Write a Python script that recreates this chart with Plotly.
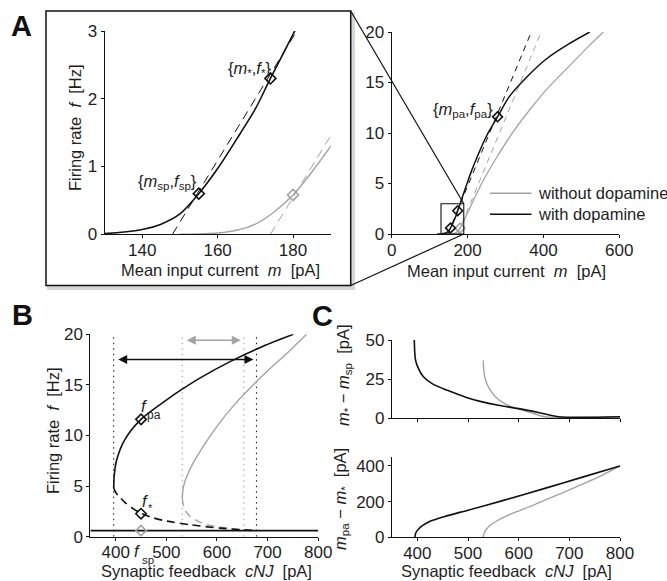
import plotly.graph_objects as go

W, H = 667, 581
FONT = "Liberation Sans, Arial, Helvetica, sans-serif"
TXT = "#1e1e1e"
BLACK = "#111111"
GRAY = "#a3a3a3"
LIGHT = "#b0b0b0"

# ---------------- data ----------------
# Panel A: firing rate f [Hz] vs mean input current m [pA]
m_with = [120, 130, 140, 145, 150, 155, 160, 165, 170, 174, 180, 190, 200, 210, 225, 250, 279, 310, 355, 410, 466, 522]
f_with = [0.0, 0.01, 0.07, 0.15, 0.3, 0.6, 0.97, 1.4, 1.85, 2.3, 2.95, 4.05, 5.15, 6.2, 7.6, 9.7, 11.6, 13.6, 15.5, 17.4, 18.8, 20.0]
m_without = [150, 160, 165, 170, 175, 180, 185, 190, 200, 215, 240, 277, 320, 364, 408, 470, 522, 558]
f_without = [0.0, 0.02, 0.06, 0.15, 0.33, 0.58, 0.92, 1.3, 2.1, 3.3, 5.2, 7.6, 10.1, 12.3, 14.3, 16.7, 18.7, 20.0]
# feedback lines (dashed)
fb_m_with = [148, 368]
fb_f_with = [0, 20]
fb_m_without = [174, 394]
fb_f_without = [0, 20]
# fixed points (diamonds)
fp_m_with = [155, 174, 279]
fp_f_with = [0.6, 2.3, 11.6]
fp_m_without = [180]
fp_f_without = [0.58]
# zoom window of the inset
zoom_m = [130, 190]
zoom_f = [0, 3]

# Panel B: firing rate vs synaptic feedback cNJ [pA]
cnj_hi_with = [396, 397, 402, 418, 450, 500, 532, 567, 626, 690, 751]
f_hi_with = [4.8, 6.0, 7.6, 9.6, 11.6, 13.5, 14.6, 15.7, 17.3, 18.8, 20.0]
cnj_mid_with = [396, 401, 409, 418, 435, 452, 475, 500, 547, 606, 652, 678]
f_mid_with = [4.8, 4.3, 3.85, 3.4, 2.75, 2.27, 1.85, 1.55, 1.18, 0.85, 0.68, 0.6]
cnj_hi_without = [531.5, 532.5, 535, 540, 550, 570, 600, 632, 698, 740, 777]
f_hi_without = [3.8, 4.5, 5.2, 5.9, 7.0, 8.7, 10.9, 12.9, 16.3, 18.2, 20.0]
cnj_mid_without = [531.5, 533.5, 538, 547, 562, 580, 620, 653]
f_mid_without = [3.8, 3.2, 2.55, 2.0, 1.55, 1.2, 0.85, 0.6]
cnj_low = [350, 800]
f_low = [0.6, 0.6]
cnj_fp = 450
fB_with = [11.6, 2.27]
fB_without = [0.6]
bistable_with = [396, 678]
bistable_without = [531.5, 653]

# Panel C: current differences vs cNJ
c1_cnj_with = [394, 396, 400, 412, 430, 458, 500, 524, 560, 600, 641, 678, 800]
c1_d_with = [50, 38, 33.5, 26.5, 22, 18, 13, 10.8, 8.3, 6.2, 3.6, 1.0, 1.0]
c1_cnj_without = [530, 531.5, 535, 543, 555, 570, 590, 622, 652, 800]
c1_d_without = [37, 30, 24, 18.5, 13.5, 9.8, 6.8, 3.8, 1.0, 1.0]
c2_cnj_with = [395, 396, 398, 402, 410, 425, 458, 500, 570, 655, 721, 800]
c2_d_with = [0, 15, 30, 45, 65, 90, 120, 152, 207, 277, 333, 400]
c2_cnj_without = [530, 531, 533, 537, 545, 556, 575, 595, 622, 653, 688, 726, 754, 800]
c2_d_without = [0, 15, 30, 48, 70, 90, 118, 142, 172, 210, 250, 298, 333, 400]

# ---------------- helpers ----------------
def PX(px):
    return px / W


def PY(py):
    return 1 - py / H


# axis geometry in pixels: (left, right), (bottom, top), x range, y range
GEOM = {
    "": ((104.6, 330.7), (234.3, 31.0), (130, 190), (0, 3)),
    "2": ((391.7, 619.3), (234.0, 32.0), (0, 600), (0, 20)),
    "3": ((90.4, 318.2), (536.7, 334.3), (350, 800), (0, 20)),
    "4": ((392.0, 620.0), (418.3, 340.0), (350, 800), (0, 50)),
    "5": ((392.0, 620.0), (537.3, 457.0), (350, 800), (0, 450)),
}


def data_to_px(key, x, y):
    (l, r), (b, t), (x0, x1), (y0, y1) = GEOM[key]
    return l + (x - x0) / (x1 - x0) * (r - l), b + (y - y0) / (y1 - y0) * (t - b)


fig = go.Figure()


def line(x, y, ax, color, width=1.5, dash=None, shape="spline"):
    fig.add_trace(go.Scatter(
        x=x, y=y, mode="lines", xaxis="x" + ax, yaxis="y" + ax,
        line=dict(color=color, width=width, dash=dash, shape=shape, smoothing=0.8),
        showlegend=False, hoverinfo="skip"))


def diamonds(x, y, ax, color, size):
    fig.add_trace(go.Scatter(
        x=x, y=y, mode="markers", xaxis="x" + ax, yaxis="y" + ax,
        marker=dict(symbol="diamond-open", size=size, color=color, line=dict(width=1.6, color=color)),
        showlegend=False, hoverinfo="skip"))


# ---- Panel A (inset and main) ----
for ax, dsh, dsize, lw in (("", "9px,6px", 8.5, 1.6), ("2", "6px,5px", 7.5, 1.5)):
    line(m_without, f_without, ax, GRAY, lw - 0.2)
    line(fb_m_without, fb_f_without, ax, GRAY, 1.0, dsh, "linear")
    line(fb_m_with, fb_f_with, ax, BLACK, 1.0, dsh, "linear")
    line(m_with, f_with, ax, BLACK, lw)
    diamonds(fp_m_without, fp_f_without, ax, GRAY, dsize)
    diamonds(fp_m_with, fp_f_with, ax, BLACK, dsize)

# ---- Panel B ----
for xv in bistable_without:
    line([xv, xv], [0, 20], "3", LIGHT, 1.2, "1.5px,4px", "linear")
for xv in bistable_with:
    line([xv, xv], [0, 20], "3", BLACK, 1.0, "1.5px,4px", "linear")
line(cnj_hi_without, f_hi_without, "3", GRAY, 1.4)
line(cnj_mid_without, f_mid_without, "3", GRAY, 1.4, "8px,5px")
line(cnj_low, f_low, "3", BLACK, 1.6, None, "linear")
line(cnj_hi_with, f_hi_with, "3", BLACK, 1.6)
line(cnj_mid_with, f_mid_with, "3", BLACK, 1.6, "8px,5px")
diamonds([cnj_fp] * len(fB_without), fB_without, "3", GRAY, 8)
diamonds([cnj_fp] * len(fB_with), fB_with, "3", BLACK, 8)

# ---- Panel C ----
line(c1_cnj_without, c1_d_without, "4", GRAY, 1.4)
line(c1_cnj_with, c1_d_with, "4", BLACK, 1.6)
line(c2_cnj_without, c2_d_without, "5", GRAY, 1.4)
line(c2_cnj_with, c2_d_with, "5", BLACK, 1.6)

# ---------------- axes ----------------
tickfont = dict(family=FONT, size=17, color=TXT)
common = dict(showline=True, linecolor=BLACK, linewidth=1.2, ticks="outside", ticklen=3,
              tickwidth=1, tickcolor=BLACK, showgrid=False, zeroline=False,
              tickfont=tickfont, fixedrange=True, automargin=False)
ticks = {
    "": ([140, 160, 180], [0, 1, 2, 3]),
    "2": ([0, 200, 400, 600], [0, 5, 10, 15, 20]),
    "3": ([400, 500, 600, 700, 800], [0, 5, 10, 15, 20]),
    "4": ([400, 500, 600, 700, 800], [0, 25, 50]),
    "5": ([400, 500, 600, 700, 800], [0, 200, 400]),
}
layout_axes = {}
for key, ((l, r), (b, t), xr, yr) in GEOM.items():
    layout_axes["xaxis" + key] = dict(common, domain=[PX(l), PX(r)], range=list(xr),
                                      tickvals=ticks[key][0], anchor="y" + key,
                                      showticklabels=(key != "4"))
    layout_axes["yaxis" + key] = dict(common, domain=[PY(b), PY(t)], range=list(yr),
                                      tickvals=ticks[key][1], anchor="x" + key)

fig.update_layout(
    width=W, height=H, margin=dict(l=0, r=0, t=0, b=0), autosize=False,
    paper_bgcolor="white", plot_bgcolor="rgba(0,0,0,0)",
    font=dict(family=FONT, size=16, color=TXT), showlegend=False,
    **layout_axes)

# pull the x tick labels a little closer to the axis line
for key in GEOM:
    try:
        fig.layout["xaxis" + key].ticklabelstandoff = -3
    except Exception:
        pass

# ---------------- shapes ----------------
shapes = []
# inset frame with shadow
shapes.append(dict(type="rect", xref="paper", yref="paper", x0=PX(47), x1=PX(355), y0=PY(290), y1=PY(12),
                   fillcolor="#d6d6d6", line=dict(width=0), layer="below"))
shapes.append(dict(type="rect", xref="paper", yref="paper", x0=PX(46), x1=PX(350.7), y0=PY(285.5), y1=PY(11),
                   fillcolor="white", line=dict(color=BLACK, width=1.5), layer="below"))
# zoom rectangle in the main panel
shapes.append(dict(type="rect", xref="x2", yref="y2", x0=zoom_m[0], x1=zoom_m[1], y0=zoom_f[0], y1=zoom_f[1],
                   line=dict(color=BLACK, width=1.1), layer="above"))
# connecting lines
tr = data_to_px("2", zoom_m[1], zoom_f[1])
br = data_to_px("2", zoom_m[1], zoom_f[0])
shapes.append(dict(type="line", xref="paper", yref="paper", x0=PX(350.7), y0=PY(11), x1=PX(tr[0]), y1=PY(tr[1]),
                   line=dict(color=BLACK, width=1.2)))
shapes.append(dict(type="line", xref="paper", yref="paper", x0=PX(350.7), y0=PY(285.5), x1=PX(br[0]), y1=PY(br[1]),
                   line=dict(color=BLACK, width=1.2)))
# legend samples
shapes.append(dict(type="line", xref="paper", yref="paper", x0=PX(490), x1=PX(531.5), y0=PY(193.3), y1=PY(193.3),
                   line=dict(color=GRAY, width=1.6)))
shapes.append(dict(type="line", xref="paper", yref="paper", x0=PX(490), x1=PX(531.5), y0=PY(214.3), y1=PY(214.3),
                   line=dict(color=BLACK, width=1.6)))
fig.update_layout(shapes=shapes)

# ---------------- annotations ----------------
ann = []


def text(px, py, s, size=16.5, angle=0, xanchor="center", bold=False, color=TXT):
    ann.append(dict(xref="paper", yref="paper", x=PX(px), y=PY(py), text=("<b>%s</b>" % s) if bold else s,
                    showarrow=False, xanchor=xanchor, yanchor="middle", textangle=angle,
                    font=dict(family=FONT, size=size, color=color)))


# panel letters
text(21.5, 26, "A", 29, bold=True, color="#111")
text(22.5, 315, "B", 29, bold=True, color="#111")
text(322.5, 316, "C", 29, bold=True, color="#111")
# axis titles
text(220, 270, "Mean input current  <i>m</i>  [pA]")
text(506.5, 271, "Mean input current  <i>m</i>  [pA]")
text(75, 128, "Firing rate  <i>f</i>  [Hz]", angle=-90)
text(53, 431, "Firing rate  <i>f</i>  [Hz]", angle=-90)
text(206, 571, "Synaptic feedback  <i>cNJ</i>  [pA]")
text(506, 571, "Synaptic feedback  <i>cNJ</i>  [pA]")
text(344, 375, "<i>m</i><sub>*</sub> − <i>m</i><sub>sp</sub>  [pA]", angle=-90)
text(341, 499, "<i>m</i><sub>pa</sub> − <i>m</i><sub>*</sub>  [pA]", angle=-90)
# point labels in A
text(249, 69, "{<i>m</i><sub>*</sub>,<i>f</i><sub>*</sub>}")
text(167, 182, "{<i>m</i><sub>sp</sub>,<i>f</i><sub>sp</sub>}")
text(462.5, 110, "{<i>m</i><sub>pa</sub>,<i>f</i><sub>pa</sub>}")
# point labels in B
text(144, 406, "<i>f</i>")
text(153.7, 415.5, "pa", 12)
text(145.5, 500.5, "<i>f</i>")
text(150, 507.5, "*", 11)
text(137.5, 551, "<i>f</i>")
text(147.5, 560, "sp", 11.5)
# legend text
text(535.5, 193, "without dopamine", 16.5, xanchor="left")
text(535.5, 214, "with dopamine", 16.5, xanchor="left")

# double arrows marking the bistable ranges
ARROW_Y_WITH = 17.5
ARROW_Y_WITHOUT = 19.4
for (x0, x1), yy, col in ((bistable_with, ARROW_Y_WITH, BLACK), (bistable_without, ARROW_Y_WITHOUT, GRAY)):
    ann.append(dict(x=x1, y=yy, ax=x0, ay=yy, xref="x3", yref="y3", axref="x3", ayref="y3",
                    showarrow=True, arrowhead=2, arrowside="end+start", arrowsize=1.2, arrowwidth=1.5,
                    arrowcolor=col, text="", standoff=3, startstandoff=3))

fig.update_layout(annotations=ann)
fig.write_html("out.html", config={"responsive": False, "displayModeBar": False},
               post_script="document.body.style.margin='0';document.body.style.overflow='hidden';")
